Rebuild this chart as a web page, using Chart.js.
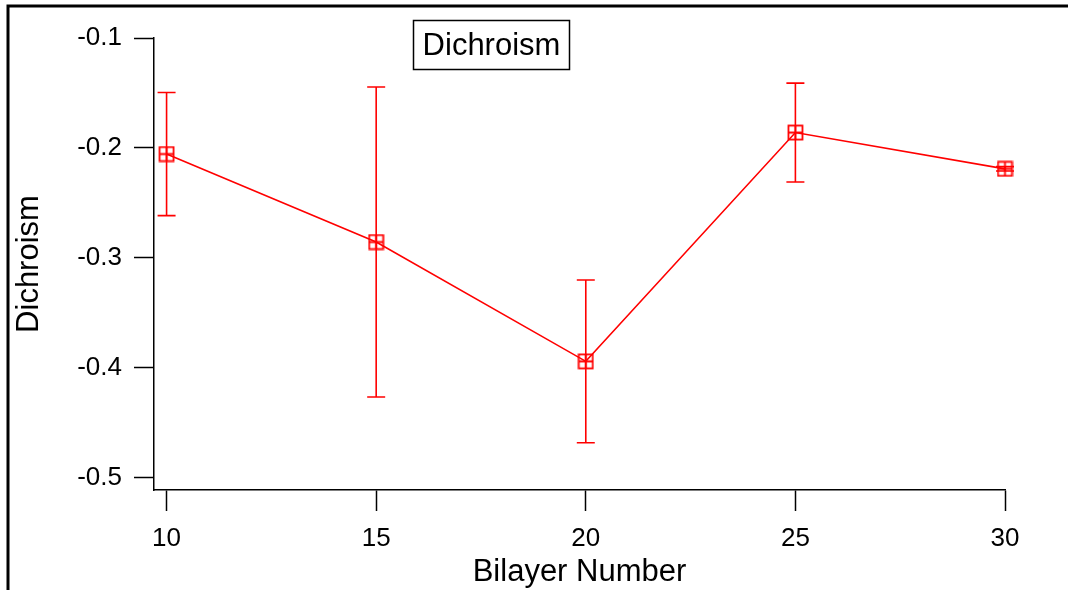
<!DOCTYPE html>
<html>
<head>
<meta charset="utf-8">
<script src="https://cdn.jsdelivr.net/npm/chart.js@4/dist/chart.umd.min.js"></script>
<style>
  html, body { margin: 0; padding: 0; background: #fff; }
  #wrap { width: 1068px; height: 590px; position: relative; }
</style>
</head>
<body>
<div id="wrap"><canvas id="myChart" width="1068" height="590"></canvas></div>
<script>
// Dichroism vs bilayer number, with error bars
const bilayers = [10, 15, 20, 25, 30];
const dichroism = [-0.2055, -0.2855, -0.394, -0.186, -0.219];
const errors = [0.056, 0.141, 0.074, 0.045, 0.002];
const xTicks = [10, 15, 20, 25, 30];
const yTicks = [-0.5, -0.4, -0.3, -0.2, -0.1];

const red = '#ff0000';
const fontFamily = '"Liberation Sans", Arial, sans-serif';

// square marker with a cross inside
function makeMarker() {
    const c = document.createElement('canvas');
    c.width = 17;
    c.height = 17;
    const g = c.getContext('2d');
    g.strokeStyle = red;
    g.lineWidth = 1.8;
    g.strokeRect(1.5, 1.5, 14, 14);
    g.beginPath();
    g.moveTo(8.5, 1.5); g.lineTo(8.5, 15.5);
    g.moveTo(1.5, 8.5); g.lineTo(15.5, 8.5);
    g.stroke();
    return c;
}

// error bars drawn from the data arrays through the scales
const errorBars = {
    id: 'errorBars',
    beforeDatasetsDraw(chart) {
        const ctx = chart.ctx;
        const xs = chart.scales.x, ys = chart.scales.y;
        ctx.save();
        ctx.strokeStyle = red;
        ctx.lineWidth = 1.6;
        bilayers.forEach((b, i) => {
            const x = xs.getPixelForValue(b);
            const top = ys.getPixelForValue(dichroism[i] + errors[i]);
            const bot = ys.getPixelForValue(dichroism[i] - errors[i]);
            ctx.beginPath();
            ctx.moveTo(x, top); ctx.lineTo(x, bot);
            ctx.moveTo(x - 9, top); ctx.lineTo(x + 9, top);
            ctx.moveTo(x - 9, bot); ctx.lineTo(x + 9, bot);
            ctx.stroke();
        });
        ctx.restore();
    }
};

// outer frame lines and the boxed label
const decorations = {
    id: 'decorations',
    beforeDraw(chart) {
        const ctx = chart.ctx;
        ctx.save();
        ctx.fillStyle = '#fff';
        ctx.fillRect(0, 0, chart.width, chart.height);
        ctx.strokeStyle = '#000';
        ctx.lineWidth = 3;
        ctx.beginPath();
        ctx.moveTo(8, chart.height);
        ctx.lineTo(8, 6);
        ctx.lineTo(chart.width, 6);
        ctx.stroke();
        ctx.restore();
    },
    afterDraw(chart) {
        const ctx = chart.ctx;
        ctx.save();
        ctx.strokeStyle = '#000';
        ctx.lineWidth = 1.5;
        ctx.strokeRect(413.5, 20.5, 156, 49);
        ctx.fillStyle = '#000';
        ctx.font = '31px ' + fontFamily;
        ctx.textAlign = 'center';
        ctx.textBaseline = 'middle';
        ctx.fillText('Dichroism', 491.5, 46);
        ctx.restore();
    }
};

const ctx = document.getElementById('myChart');

new Chart(ctx, {
    type: 'line',
    data: {
        datasets: [{
            label: 'Dichroism',
            data: bilayers.map((b, i) => ({ x: b, y: dichroism[i] })),
            borderColor: red,
            borderWidth: 1.6,
            pointStyle: makeMarker(),
            clip: false,
            tension: 0
        }]
    },
    options: {
        responsive: false,
        animation: false,
        devicePixelRatio: 1,
        layout: { padding: { left: 0, top: 38, right: 63, bottom: 0 } },
        plugins: {
            legend: { display: false },
            tooltip: { enabled: false }
        },
        scales: {
            x: {
                type: 'linear',
                min: 9.7,
                max: 30,
                afterBuildTicks: (scale) => { scale.ticks = xTicks.map(v => ({ value: v })); },
                afterFit: (scale) => { scale.height = 100; },
                border: { display: true, color: '#000', width: 1.5 },
                grid: { drawOnChartArea: false, color: '#000', tickLength: 21, tickWidth: 1.5 },
                ticks: {
                    color: '#000',
                    padding: 12,
                    maxRotation: 0,
                    font: { family: fontFamily, size: 26 }
                },
                title: {
                    display: true,
                    text: 'Bilayer Number',
                    color: '#000',
                    font: { family: fontFamily, size: 31, lineHeight: 1 },
                    padding: { top: 0, bottom: 2 }
                }
            },
            y: {
                min: -0.511,
                max: -0.1,
                afterBuildTicks: (scale) => { scale.ticks = yTicks.map(v => ({ value: v })); },
                afterFit: (scale) => { scale.width = 154; },
                border: { display: true, color: '#000', width: 1.5 },
                grid: { drawOnChartArea: false, color: '#000', tickLength: 20, tickWidth: 1.5 },
                ticks: {
                    color: '#000',
                    padding: 12,
                    font: { family: fontFamily, size: 26 },
                    callback: (v) => v.toFixed(1)
                },
                title: {
                    display: true,
                    text: 'Dichroism',
                    color: '#000',
                    font: { family: fontFamily, size: 31, lineHeight: 1 },
                    padding: { top: 14, bottom: 0 }
                }
            }
        }
    },
    plugins: [decorations, errorBars]
});
</script>
</body>
</html>
